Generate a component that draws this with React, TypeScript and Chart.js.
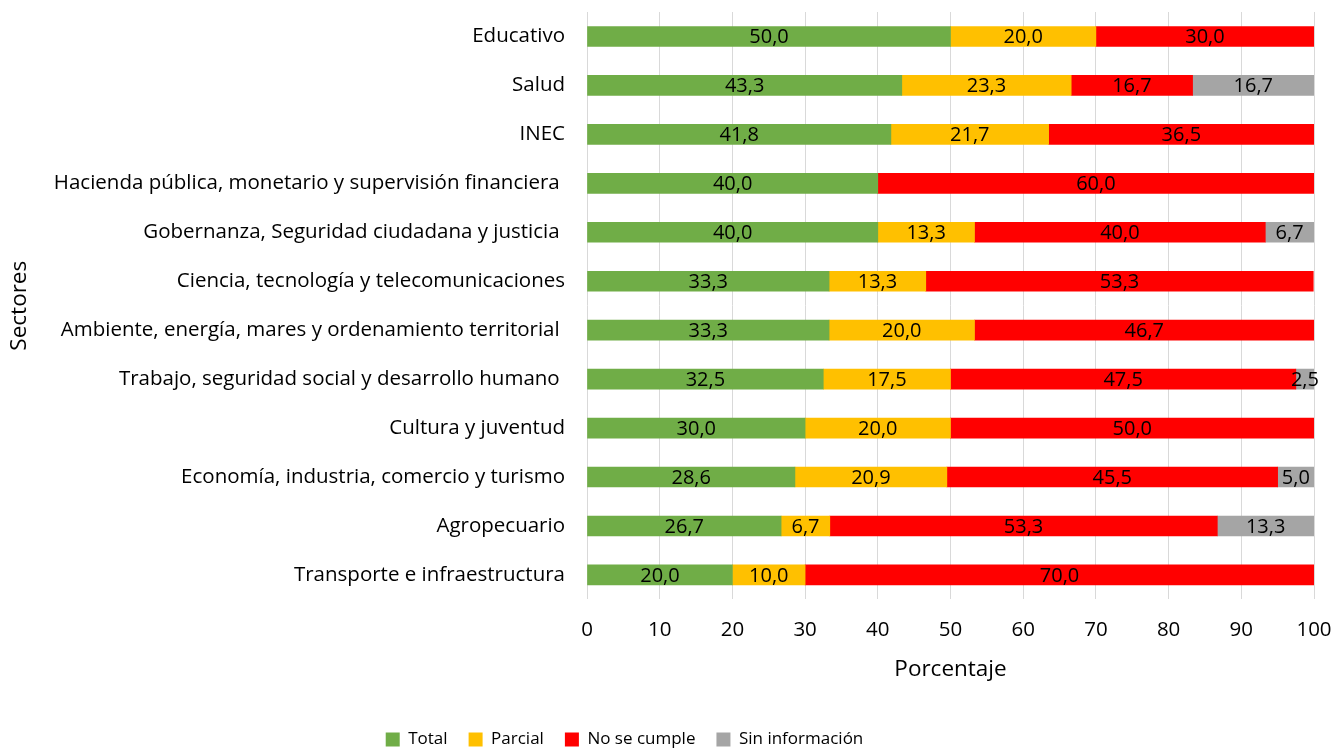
import React, { useEffect, useRef } from "react";
import { Chart, registerables } from "chart.js";

Chart.register(...registerables);

const categories = [
  "Educativo",
  "Salud",
  "INEC",
  "Hacienda pública, monetario y supervisión financiera ",
  "Gobernanza, Seguridad ciudadana y justicia ",
  "Ciencia, tecnología y telecomunicaciones",
  "Ambiente, energía, mares y ordenamiento territorial ",
  "Trabajo, seguridad social y desarrollo humano ",
  "Cultura y juventud",
  "Economía, industria, comercio y turismo",
  "Agropecuario",
  "Transporte e infraestructura",
];

const totalValues = [50.0, 43.3, 41.8, 40.0, 40.0, 33.3, 33.3, 32.5, 30.0, 28.6, 26.7, 20.0];
const parcialValues = [20.0, 23.3, 21.7, null, 13.3, 13.3, 20.0, 17.5, 20.0, 20.9, 6.7, 10.0];
const noCumpleValues = [30.0, 16.7, 36.5, 60.0, 40.0, 53.3, 46.7, 47.5, 50.0, 45.5, 53.3, 70.0];
const sinInfoValues = [null, 16.7, null, null, 6.7, null, null, 2.5, null, 5.0, 13.3, null];

const xTicks = [0, 10, 20, 30, 40, 50, 60, 70, 80, 90, 100];

const FONT = "'Open Sans', sans-serif";

const dataLabelPlugin = {
  id: "dataLabels",
  afterLayout(chart: any) {
    const lg = chart.legend;
    if (lg) lg.right = lg.right - 65;
  },
  afterDatasetsDraw(chart: any) {
    const ctx = chart.ctx;
    ctx.save();
    ctx.font = `20px ${FONT}`;
    ctx.fillStyle = "#000000";
    ctx.textAlign = "center";
    ctx.textBaseline = "middle";
    chart.data.datasets.forEach((ds: any, di: number) => {
      const meta = chart.getDatasetMeta(di);
      meta.data.forEach((bar: any, i: number) => {
        const v = ds.data[i];
        if (v === null || v === undefined) return;
        const cx = (bar.x + bar.base) / 2;
        ctx.fillText(v.toFixed(1).replace(".", ","), cx, bar.y + 1);
      });
    });
    ctx.restore();
  },
};

export default function App() {
  const ref = useRef<HTMLCanvasElement>(null);
  useEffect(() => {
    const canvas = ref.current!;
    const chart = new Chart(canvas, {
      type: "bar",
      data: {
        labels: categories,
        datasets: [
          { label: "Total", data: totalValues, backgroundColor: "#70AD47", barThickness: 20 },
          { label: "Parcial", data: parcialValues, backgroundColor: "#FFC000", barThickness: 20 },
          { label: "No se cumple", data: noCumpleValues, backgroundColor: "#FF0000", barThickness: 20 },
          { label: "Sin información", data: sinInfoValues, backgroundColor: "#A5A5A5", barThickness: 20 },
        ] as any,
      },
      options: {
        indexAxis: "y",
        responsive: false,
        animation: false,
        devicePixelRatio: 1,
        layout: { padding: { top: 12, right: 21, bottom: -9, left: 0 } },
        plugins: {
          legend: {
            position: "bottom",
            labels: {
              boxWidth: 14,
              boxHeight: 14,
              padding: 21,
              color: "#000000",
              font: { family: FONT, size: 17 },
            },
          },
          tooltip: { enabled: false },
        },
        scales: {
          x: {
            stacked: true,
            min: 0,
            max: 100,
            afterBuildTicks: (scale: any) => {
              scale.ticks = xTicks.map((v) => ({ value: v }));
            },
            afterFit: (scale: any) => {
              scale.paddingRight = 0;
            },
            grid: { color: "#D9D9D9", lineWidth: 1, drawTicks: true, tickLength: 18, tickColor: "rgba(0,0,0,0)" },
            border: { display: false },
            ticks: { color: "#000000", padding: 0, font: { family: FONT, size: 20.5 } },
            title: {
              display: true,
              text: "Porcentaje",
              color: "#000000",
              font: { family: FONT, size: 22.5 },
              padding: { top: 14, bottom: 27 },
            },
          },
          y: {
            stacked: true,
            grid: { display: false, drawTicks: false },
            border: { display: false },
            afterFit: (scale: any) => {
              scale.width = 587;
              scale.paddingTop = 0;
              scale.paddingBottom = 0;
            },
            ticks: { color: "#000000", padding: 22, font: { family: FONT, size: 20.5 } },
            title: {
              display: true,
              text: "Sectores",
              color: "#000000",
              font: { family: FONT, size: 22.5 },
              padding: { top: 6, bottom: 0 },
            },
          },
        },
      } as any,
      plugins: [dataLabelPlugin],
    });
    return () => chart.destroy();
  }, []);
  return (
    <div style={{ position: "fixed", left: 0, top: 0, width: 1335, height: 749, background: "#fff" }}>
      <canvas ref={ref} width={1335} height={749} style={{ width: 1335, height: 749 }} />
    </div>
  );
}
